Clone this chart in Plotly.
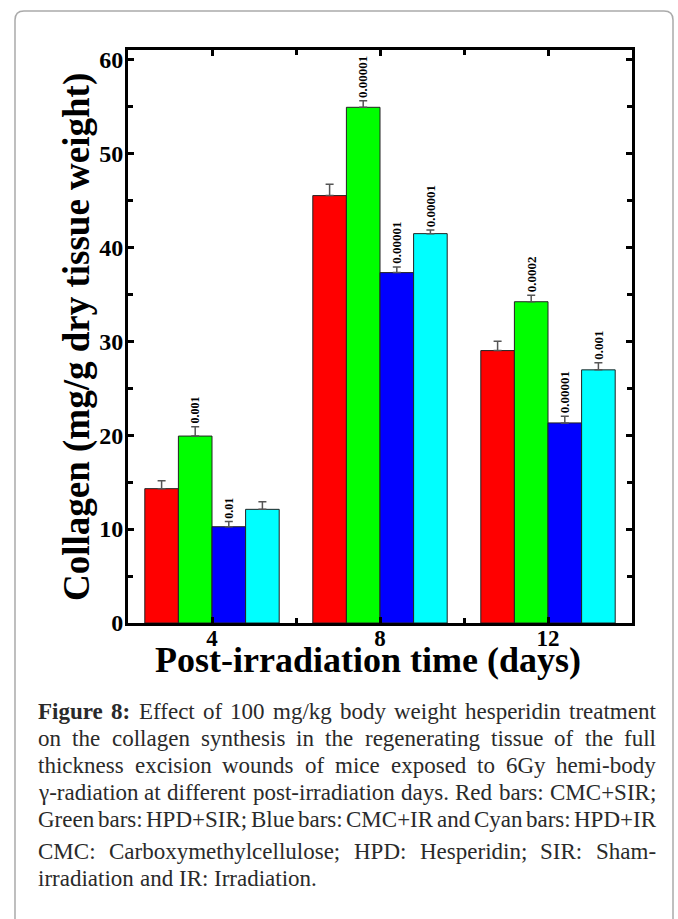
import plotly.graph_objects as go

# ---- data ----
days = [4, 8, 12]
series_names = ["CMC+SIR", "HPD+SIR", "CMC+IR", "HPD+IR"]
red_vals = [14.3, 45.5, 29.0]
green_vals = [19.9, 54.9, 34.2]
blue_vals = [10.25, 37.3, 21.3]
cyan_vals = [12.1, 41.45, 26.95]
red_err = [0.85, 1.2, 1.0]
green_err = [1.0, 0.7, 0.7]
blue_err = [0.55, 0.6, 0.7]
cyan_err = [0.8, 0.4, 0.75]
red_p = ["", "", ""]
green_p = ["0.001", "0.00001", "0.0002"]
blue_p = ["0.01", "0.00001", "0.00001"]
cyan_p = ["", "0.00001", "0.001"]
y_ticks = [0, 10, 20, 30, 40, 50, 60]
y_minor = [5, 15, 25, 35, 45, 55]
x_minor = [6, 10]

caption_lines = [
    "<b>Figure 8:</b> Effect of 100 mg/kg body weight hesperidin treatment",
    "on the collagen synthesis in the regenerating tissue of the full",
    "thickness excision wounds of mice exposed to 6Gy hemi-body",
    "γ-radiation at different post-irradiation days. Red bars: CMC+SIR;",
    "Green bars: HPD+SIR; Blue bars: CMC+IR and Cyan bars: HPD+IR",
    "CMC: Carboxymethylcellulose; HPD: Hesperidin; SIR: Sham-",
    "irradiation and IR: Irradiation.",
]
caption_justify = [True, True, True, True, True, True, False]

# ---- layout geometry (pixels) ----
W, H = 678, 919
L, R, T, B = 128, 632, 50, 623
PW, PH = R - L, B - T


def px_x(px):
    return (px - L) / PW


def px_y(py):
    return (B - py) / PH


SERIF = "Liberation Serif"
colors = ["#FF0000", "#00FF00", "#0000FF", "#00FFFF"]
vals = [red_vals, green_vals, blue_vals, cyan_vals]
errs = [red_err, green_err, blue_err, cyan_err]
pvals = [red_p, green_p, blue_p, cyan_p]

fig = go.Figure()
for i in range(4):
    fig.add_trace(go.Bar(
        x=days, y=vals[i], name=series_names[i],
        marker=dict(color=colors[i], line=dict(color="#222222", width=1)),
        error_y=dict(type="data", array=errs[i], arrayminus=[0, 0, 0],
                     symmetric=False, color="#555555", thickness=1.5, width=4),
    ))

annotations = []
bar_w = 0.8
for i in range(4):
    off = (i - 1.5) * bar_w
    for j, d in enumerate(days):
        if pvals[i][j]:
            annotations.append(dict(
                x=d + off, y=vals[i][j] + errs[i][j], xref="x", yref="y",
                text=pvals[i][j], textangle=-90, showarrow=False,
                xanchor="center", yanchor="bottom", yshift=1,
                font=dict(family=SERIF, size=12 if d == 4 else 13,
                          color="black", weight="bold"),
            ))

# axis titles
annotations.append(dict(
    x=px_x(368), y=px_y(638), xref="paper", yref="paper",
    text="Post-irradiation time (days)", showarrow=False,
    xanchor="center", yanchor="top",
    font=dict(family=SERIF, size=36, color="black", weight="bold"),
))
annotations.append(dict(
    x=px_x(77), y=px_y(337), xref="paper", yref="paper",
    text="Collagen (mg/g dry tissue weight)", showarrow=False, textangle=-90,
    xanchor="center", yanchor="middle",
    font=dict(family=SERIF, size=37, color="black", weight="bold"),
))

# caption (manual justification using Times metrics)
TW = {' ': 250, '!': 333, '(': 333, ')': 333, '+': 564, ',': 250, '-': 333,
      '.': 250, '/': 278, ':': 278, ';': 278, 'γ': 440}
for c in '0123456789':
    TW[c] = 500
upper = dict(A=722, B=667, C=667, D=722, E=611, F=556, G=722, H=722, I=333,
             J=389, K=722, L=611, M=889, N=722, O=722, P=556, Q=722, R=667,
             S=556, T=611, U=722, V=722, W=944, X=722, Y=722, Z=611)
lower = dict(a=444, b=500, c=444, d=500, e=444, f=333, g=500, h=500, i=278,
             j=278, k=500, l=278, m=778, n=500, o=500, p=500, q=500, r=333,
             s=389, t=278, u=500, v=500, w=722, x=500, y=500, z=444)
TW.update(upper)
TW.update(lower)
BW = dict(TW)
BW.update({'F': 611, 'u': 556, 'r': 444, ':': 333, 'g': 500})

CAP_SIZE = 23
CAP_X0, CAP_X1 = 36, 654
cap_base = [720, 747, 774, 801, 828, 860, 887]


def word_width(w, bold=False):
    tbl = BW if bold else TW
    return sum(tbl.get(c, 500) for c in w) * CAP_SIZE / 1000.0


for li, line in enumerate(caption_lines):
    words = []
    for tok in line.replace("<b>Figure 8:</b>", "<b>Figure</b> <b>8:</b>").split(" "):
        bold = tok.startswith("<b>")
        plain = tok.replace("<b>", "").replace("</b>", "")
        words.append((tok, plain, bold))
    widths = [word_width(p, b) for _, p, b in words]
    space = 250 * CAP_SIZE / 1000.0
    if caption_justify[li] and len(words) > 1:
        gap = (CAP_X1 - CAP_X0 - sum(widths)) / (len(words) - 1)
    else:
        gap = space
    xpos = CAP_X0
    for (tok, plain, bold), w in zip(words, widths):
        annotations.append(dict(
            x=px_x(xpos), y=px_y(cap_base[li] + 6), xref="paper", yref="paper",
            text=tok, showarrow=False, xanchor="left", yanchor="bottom",
            font=dict(family=SERIF, size=CAP_SIZE, color="#2a2a2a"),
        ))
        xpos += w + gap

# card border (rounded rectangle)
x0p, x1p, y0p, y1p = 15, 673, 11, 960
r = 9


def P(px, py):
    return f"{px_x(px):.5f},{px_y(py):.5f}"


path = (f"M {P(x0p + r, y0p)} L {P(x1p - r, y0p)} Q {P(x1p, y0p)} {P(x1p, y0p + r)} "
        f"L {P(x1p, y1p)} L {P(x0p, y1p)} L {P(x0p, y0p + r)} Q {P(x0p, y0p)} {P(x0p + r, y0p)} Z")
shapes = [dict(type="path", xref="paper", yref="paper", path=path,
               line=dict(color="#AAAAAA", width=1.5), layer="below")]

axis_common = dict(
    showline=True, linewidth=3, linecolor="black", mirror="ticks",
    ticks="inside", ticklen=6, tickwidth=2.5, tickcolor="black",
    showgrid=False, zeroline=False,
)

fig.update_layout(
    width=W, height=H,
    margin=dict(l=L, r=W - R, t=T, b=H - B),
    paper_bgcolor="white", plot_bgcolor="white",
    barmode="group", bargap=0.2, bargroupgap=0,
    showlegend=False,
    annotations=annotations, shapes=shapes,
    xaxis=dict(range=[2, 14], tickvals=days, ticktext=[str(d) for d in days],
               ticklabelstandoff=-8,
               minor=dict(tickvals=x_minor, ticks="inside", ticklen=5,
                          tickwidth=2.5, tickcolor="black"),
               tickfont=dict(family=SERIF, size=23, color="black", weight="bold"),
               **axis_common),
    yaxis=dict(range=[0, 61], tickvals=y_ticks, ticklabelstandoff=-3,
               minor=dict(tickvals=y_minor, ticks="inside", ticklen=5,
                          tickwidth=2.5, tickcolor="black"),
               tickfont=dict(family=SERIF, size=24, color="black", weight="bold"),
               **axis_common),
)

fig.write_html("out.html")
